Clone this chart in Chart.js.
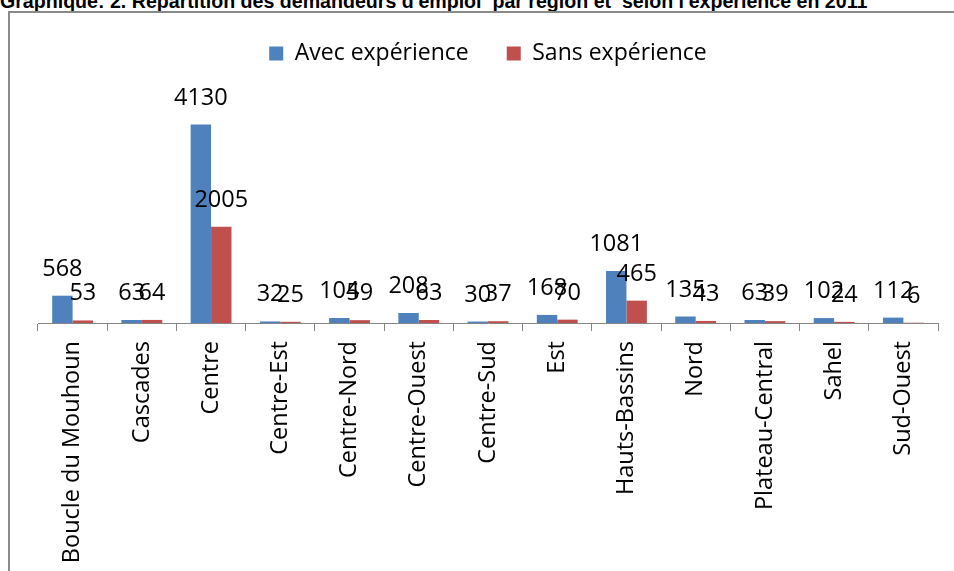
<!DOCTYPE html>
<html>
<head>
<meta charset="utf-8">
<script src="https://cdn.jsdelivr.net/npm/chart.js@4/dist/chart.umd.min.js"></script>
<style>
  body { margin: 0; width: 954px; height: 571px; overflow: hidden; background: #fff; position: relative; }
  #title { position: absolute; left: 0; top: -10px; font: bold 19.6px "Liberation Sans", Arial, sans-serif; color: #000; white-space: pre; }
  #frame { position: absolute; left: 8px; top: 11px; width: 980px; height: 600px; border-left: 2px solid #8a8a8a; border-top: 2px solid #8a8a8a; }
  #wrap { position: absolute; left: 0; top: 0; width: 954px; height: 571px; }
</style>
</head>
<body>
<div id="title">Graphique: 2. Répartition des demandeurs d'emploi  par région et  selon l'expérience en 2011</div>
<div id="frame"></div>
<div id="wrap"><canvas id="chart"></canvas></div>
<script>
// regions
const regions = ["Boucle du Mouhoun", "Cascades", "Centre", "Centre-Est", "Centre-Nord", "Centre-Ouest",
    "Centre-Sud", "Est", "Hauts-Bassins", "Nord", "Plateau-Central", "Sahel", "Sud-Ouest"];

const avecExperience = [568, 63, 4130, 32, 104, 208, 30, 168, 1081, 135, 63, 102, 112];
const sansExperience = [53, 64, 2005, 25, 59, 63, 37, 70, 465, 43, 39, 24, 6];

// hidden value axis
const yMax = 5160;

/* ---- value labels above the bars ---- */
const valueLabels = {
    id: "valueLabels",
    afterDatasetsDraw(chart) {
        const ctx = chart.ctx;
        ctx.save();
        ctx.font = '23.5px "Open Sans"';
        ctx.fillStyle = "#000";
        ctx.textAlign = "center";
        ctx.textBaseline = "alphabetic";
        chart.data.datasets.forEach((ds, i) => {
            chart.getDatasetMeta(i).data.forEach((bar, j) => {
                ctx.fillText(ds.data[j], bar.x, bar.y - 20);
            });
        });
        ctx.restore();
    }
};

new Chart(document.getElementById("chart"), {
    type: "bar",
    data: {
        labels: regions,
        datasets: [
            {
                label: "Avec expérience",
                data: avecExperience,
                backgroundColor: "#4f81bd",
                categoryPercentage: 0.59,
                barPercentage: 1
            },
            {
                label: "Sans expérience",
                data: sansExperience,
                backgroundColor: "#c0504d",
                categoryPercentage: 0.59,
                barPercentage: 1
            }
        ]
    },
    options: {
        responsive: true,
        maintainAspectRatio: false,
        animation: false,
        layout: { padding: { left: 38, right: 16, top: 4, bottom: 0 } },
        plugins: {
            legend: {
                position: "top",
                labels: {
                    font: { family: "Open Sans", size: 23 },
                    color: "#000",
                    boxWidth: 14,
                    boxHeight: 14,
                    padding: 38
                }
            },
            tooltip: { enabled: false }
        },
        scales: {
            x: {
                grid: {
                    drawOnChartArea: false,
                    drawTicks: true,
                    tickLength: 8,
                    color: "#868686"
                },
                border: { color: "#868686", width: 1 },
                ticks: {
                    autoSkip: false,
                    minRotation: 90,
                    maxRotation: 90,
                    padding: 10,
                    color: "#000",
                    font: { family: "Open Sans", size: 23.5 }
                },
                afterFit(scale) { scale.height = 571 - 323; }
            },
            y: {
                display: false,
                min: 0,
                max: yMax
            }
        }
    },
    plugins: [valueLabels]
});
</script>
</body>
</html>
